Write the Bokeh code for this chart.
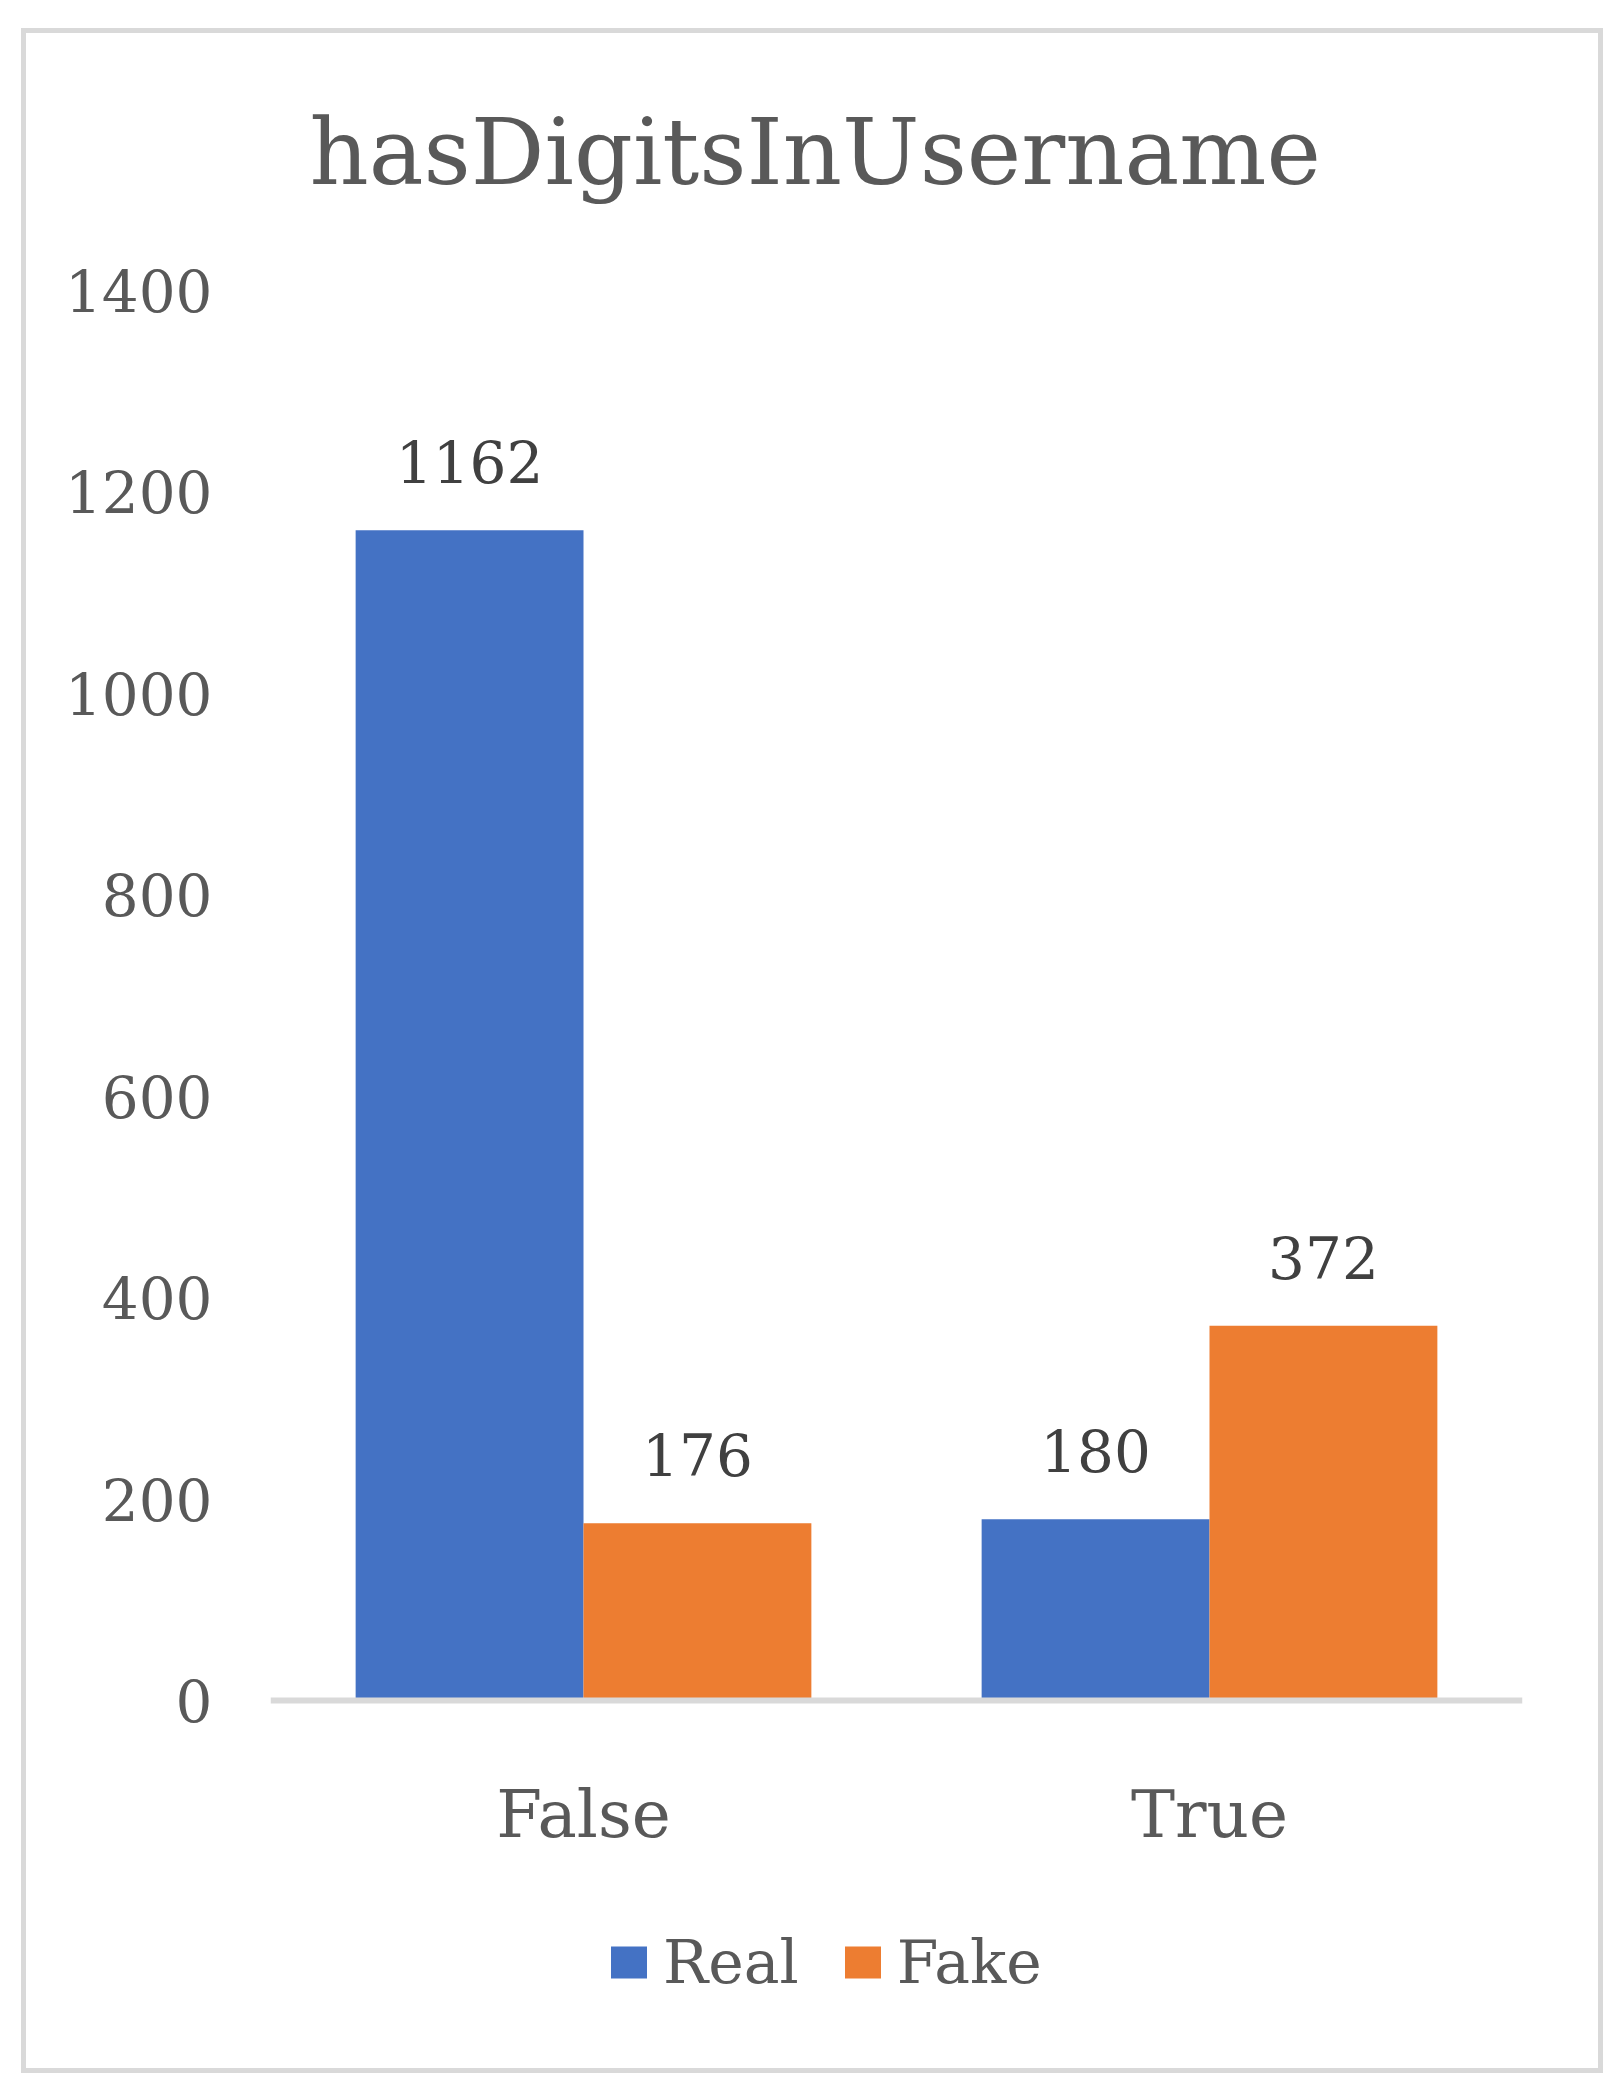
from bokeh.plotting import figure
from bokeh.models import (ColumnDataSource, FixedTicker, Range1d, FactorRange, LinearAxis,
                          CategoricalAxis, Legend, LegendItem, LabelSet, Title)
from bokeh.transform import dodge
from bokeh.core.properties import value
from bokeh.embed import file_html
from bokeh.resources import INLINE

# ---- data ----
title_text = "hasDigitsInUsername"
categories = ["False", "True"]
series_names = ["Real", "Fake"]
real_values = [1162, 180]
fake_values = [176, 372]
y_ticks = [0, 200, 400, 600, 800, 1000, 1200, 1400]

BLUE = "#4472C4"
ORANGE = "#ED7D31"
FONT = "DejaVu Serif"
GREY_TXT = "#595959"
DARK_TXT = "#404040"

source = ColumnDataSource(dict(
    cat=categories,
    real=real_values,
    fake=fake_values,
    real_lbl=[str(v) for v in real_values],
    fake_lbl=[str(v) for v in fake_values],
))

# the frame also holds the category labels and legend below the zero line
p = figure(x_range=FactorRange(factors=categories), y_range=Range1d(-338.6, 1435.7),
           width=1582, height=2045, output_backend="svg", toolbar_location=None,
           min_border_left=244, min_border_right=86, min_border_top=221, min_border_bottom=37,
           x_axis_location=None, y_axis_location=None, title=None)
p.xgrid.visible = False
p.ygrid.visible = False
p.outline_line_color = None
p.background_fill_color = "white"
p.border_fill_color = "white"
p.styles = {"border": "5px solid #D9D9D9", "margin-top": "19px", "margin-left": "13px",
            "transform": "translate(8px, 9px)"}

bw = 0.364
r1 = p.vbar(x=dodge("cat", -bw / 2, range=p.x_range), top="real", width=bw, source=source,
            fill_color=BLUE, line_color=None)
r2 = p.vbar(x=dodge("cat", bw / 2, range=p.x_range), top="fake", width=bw, source=source,
            fill_color=ORANGE, line_color=None)

for col, lbl, off in (("real", "real_lbl", -bw / 2), ("fake", "fake_lbl", bw / 2)):
    p.add_layout(LabelSet(x=dodge("cat", off, range=p.x_range), y=col, text=lbl, source=source,
                          y_offset=47, text_align="center", text_baseline="alphabetic",
                          text_font=value(FONT), text_font_size=value("58px"),
                          text_color=DARK_TXT))

# y axis
yaxis = LinearAxis(ticker=FixedTicker(ticks=y_ticks))
yaxis.axis_line_color = None
yaxis.major_tick_line_color = None
yaxis.minor_tick_line_color = None
yaxis.major_tick_out = 0
yaxis.major_tick_in = 0
yaxis.major_label_standoff = 58
yaxis.major_label_text_font = FONT
yaxis.major_label_text_font_size = "58px"
yaxis.major_label_text_color = GREY_TXT
p.add_layout(yaxis, "left")

# x axis (category labels) drawn at the zero line
xaxis = CategoricalAxis(fixed_location=0)
xaxis.axis_line_color = "#D9D9D9"
xaxis.axis_line_width = 6
xaxis.major_tick_line_color = None
xaxis.minor_tick_line_color = None
xaxis.major_tick_out = 0
xaxis.major_tick_in = 0
xaxis.major_label_standoff = 76
xaxis.major_label_text_font = FONT
xaxis.major_label_text_font_size = "66px"
xaxis.major_label_text_color = GREY_TXT
p.add_layout(xaxis, "below")

# legend
legend = Legend(items=[LegendItem(label=series_names[0], renderers=[r1]),
                       LegendItem(label=series_names[1], renderers=[r2])],
                location=(336, 44), orientation="horizontal",
                glyph_width=45, glyph_height=40, label_standoff=12, spacing=41,
                padding=0, margin=0, border_line_color=None, background_fill_alpha=0,
                label_text_font=FONT, label_text_font_size="60px", label_text_color=GREY_TXT)
p.add_layout(legend)

# title
p.add_layout(Title(text=title_text, align="left", offset=39, standoff=98,
                   vertical_align="bottom", text_font=FONT, text_font_size="92px",
                   text_font_style="normal", text_color=GREY_TXT), "above")

open("out.html", "w").write(file_html(p, INLINE))
